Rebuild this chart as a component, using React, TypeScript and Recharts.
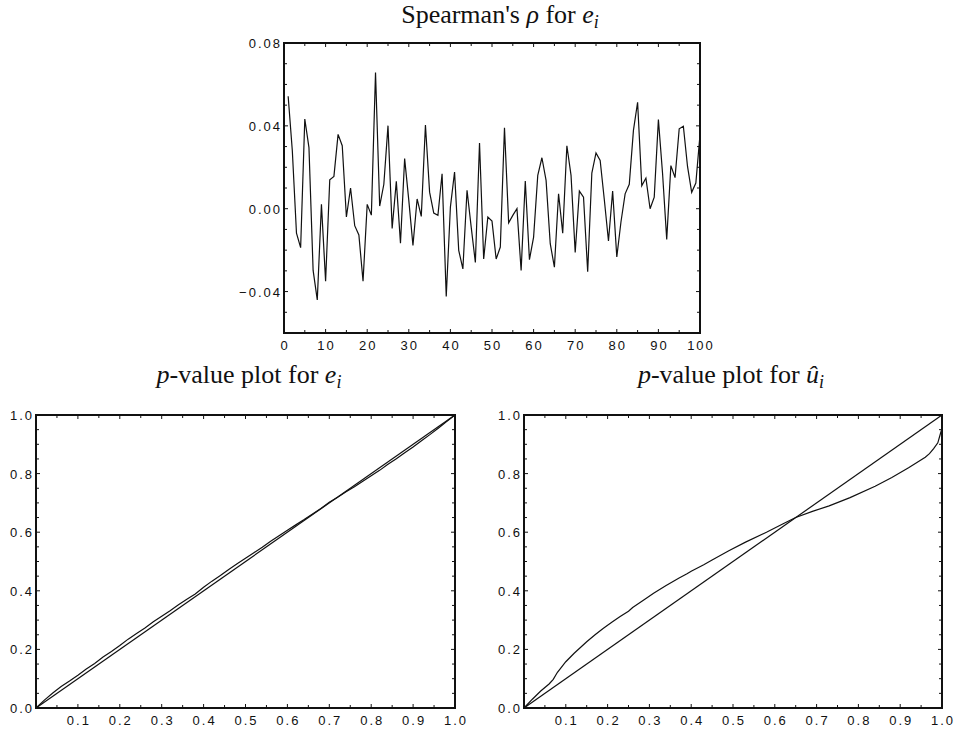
import { LineChart, Line, XAxis, YAxis } from 'recharts';

// Lag index 1..100 for the Spearman plot
const LAGS = Array.from({ length: 100 }, (_, i) => i + 1);

const SPEARMAN_RHO = [
  0.0543, 0.028, -0.0118, -0.0188, 0.0433, 0.0295, -0.0298, -0.044, 0.0021, -0.035,
  0.014, 0.0156, 0.0359, 0.0304, -0.004, 0.01, -0.0082, -0.0127, -0.035, 0.0021,
  -0.0031, 0.0657, 0.0013, 0.0118, 0.0401, -0.0095, 0.0132, -0.0167, 0.0242, 0.004,
  -0.0177, 0.0047, -0.0037, 0.0404, 0.008, -0.0021, -0.0032, 0.0169, -0.0424, 0.0008,
  0.0177, -0.0201, -0.0291, 0.0089, -0.0089, -0.0259, 0.0317, -0.0243, -0.004, -0.006,
  -0.0243, -0.0185, 0.0391, -0.0068, -0.0032, 0.0, -0.0298, 0.0134, -0.0246, -0.0137,
  0.0161, 0.0246, 0.0137, -0.0169, -0.0282, 0.0072, -0.0118, 0.0304, 0.0161, -0.0211,
  0.0085, 0.0056, -0.0304, 0.0172, 0.0269, 0.0233, 0.0043, -0.0156, 0.0085, -0.0233,
  -0.0064, 0.0072, 0.0118, 0.0378, 0.0514, 0.0111, 0.0148, 0.0, 0.0056, 0.043,
  0.017, -0.0148, 0.0208, 0.015, 0.0386, 0.0398, 0.0204, 0.0079, 0.0124, 0.0357,
];

const RHO_X_TICKS = [0, 5, 10, 15, 20, 25, 30, 35, 40, 45, 50, 55, 60, 65, 70, 75, 80, 85, 90, 95, 100];
const RHO_X_LABELS = [0, 10, 20, 30, 40, 50, 60, 70, 80, 90, 100];
const RHO_Y_TICKS = [-0.06, -0.05, -0.04, -0.03, -0.02, -0.01, 0, 0.01, 0.02, 0.03, 0.04, 0.05, 0.06, 0.07, 0.08];
const RHO_Y_LABELS = [-0.04, 0, 0.04, 0.08];

const P_TICKS = [0, 0.05, 0.1, 0.15, 0.2, 0.25, 0.3, 0.35, 0.4, 0.45, 0.5, 0.55, 0.6, 0.65, 0.7, 0.75, 0.8, 0.85, 0.9, 0.95, 1];
const P_X_LABELS = [0.1, 0.2, 0.3, 0.4, 0.5, 0.6, 0.7, 0.8, 0.9, 1.0];
const P_Y_LABELS = [0, 0.2, 0.4, 0.6, 0.8, 1.0];

// p-value plot for e_i
const E_NOMINAL = [
  0, 0.02, 0.04, 0.06, 0.08, 0.1, 0.12, 0.14, 0.16, 0.18, 0.2, 0.22, 0.24, 0.26, 0.28, 0.3, 0.32,
  0.34, 0.36, 0.38, 0.4, 0.42, 0.44, 0.46, 0.48, 0.5, 0.52, 0.54, 0.56, 0.58, 0.6, 0.62, 0.64,
  0.66, 0.68, 0.7, 0.72, 0.74, 0.76, 0.78, 0.8, 0.82, 0.84, 0.86, 0.88, 0.9, 0.92, 0.94, 0.96, 0.98, 1,
];
const E_EMPIRICAL = [
  0, 0.027, 0.051, 0.073, 0.092, 0.112, 0.133, 0.152, 0.174, 0.193, 0.213, 0.235, 0.254, 0.273,
  0.294, 0.313, 0.332, 0.352, 0.371, 0.389, 0.412, 0.433, 0.452, 0.473, 0.492, 0.511, 0.53, 0.549,
  0.569, 0.588, 0.607, 0.625, 0.643, 0.662, 0.681, 0.702, 0.719, 0.738, 0.755, 0.774, 0.793, 0.811,
  0.832, 0.851, 0.871, 0.891, 0.912, 0.933, 0.955, 0.978, 1,
];

// p-value plot for u-hat_i
const U_NOMINAL = [
  0, 0.02, 0.04, 0.06, 0.07, 0.08, 0.1, 0.12, 0.15, 0.17, 0.19, 0.21, 0.23, 0.25, 0.26, 0.29, 0.31,
  0.34, 0.37, 0.39, 0.4, 0.43, 0.45, 0.49, 0.53, 0.58, 0.62, 0.65, 0.69, 0.73, 0.78, 0.84, 0.88,
  0.92, 0.94, 0.96, 0.97, 0.98, 0.99, 0.995, 1,
];
const U_EMPIRICAL = [
  0, 0.03, 0.058, 0.082, 0.098, 0.122, 0.158, 0.187, 0.226, 0.25, 0.272, 0.293, 0.312, 0.33, 0.343,
  0.372, 0.392, 0.418, 0.443, 0.458, 0.467, 0.489, 0.505, 0.537, 0.566, 0.6, 0.629, 0.65, 0.671, 0.69,
  0.718, 0.757, 0.787, 0.82, 0.838, 0.856, 0.868, 0.885, 0.905, 0.93, 0.955,
];

const DIAGONAL = [0, 1];

const INK = '#111';
const LABEL_FONT = '"Liberation Sans", Arial, Helvetica, sans-serif';
const TITLE_FONT = '"Liberation Serif", "Times New Roman", serif';
const FRAME = { stroke: INK, strokeWidth: 2, strokeLinecap: 'square' as const };

type Side = 'bottom' | 'left' | 'top' | 'right';

function fmt(v: number, digits: number) {
  return v.toFixed(digits).replace('-', '\u2212');
}

// ticks point into the plot, labels sit outside (IDL style)
function InwardTick(props: any) {
  const { x, y, payload, side, labels, digits } = props;
  const v = payload.value as number;
  const major = labels.some((l: number) => Math.abs(l - v) < 1e-9);
  const len = major ? 4 : 3;
  let x2 = x;
  let y2 = y;
  if (side === 'bottom') y2 = y - len;
  if (side === 'top') y2 = y + len;
  if (side === 'left') x2 = x + len;
  if (side === 'right') x2 = x - len;
  const showLabel = major && (side === 'bottom' || side === 'left');
  return (
    <g>
      <line x1={x} y1={y} x2={x2} y2={y2} stroke={INK} strokeWidth={1} />
      {showLabel && (
        <text
          x={side === 'left' ? x - 2 : x + 1}
          y={side === 'left' ? y + 5 : y + 16.5}
          textAnchor={side === 'left' ? 'end' : 'middle'}
          fontFamily={LABEL_FONT}
          fontSize={13}
          letterSpacing={2}
          fill={INK}
        >
          {fmt(v, digits)}
        </text>
      )}
    </g>
  );
}

function tickFor(side: Side, labels: number[], digits: number) {
  return (p: any) => <InwardTick {...p} side={side} labels={labels} digits={digits} />;
}

function SpearmanChart() {
  const data = LAGS.map((lag, i) => ({ lag, rho: SPEARMAN_RHO[i] }));
  return (
    <LineChart width={540} height={360} data={data} margin={{ top: 38, right: 35, bottom: 0, left: 0 }}>
      <XAxis
        dataKey="lag"
        type="number"
        domain={[0, 100]}
        ticks={RHO_X_TICKS}
        interval={0}
        height={27}
        tickSize={0}
        tickMargin={0}
        axisLine={FRAME}
        tick={tickFor('bottom', RHO_X_LABELS, 0)}
      />
      <XAxis
        xAxisId="top"
        orientation="top"
        dataKey="lag"
        type="number"
        domain={[0, 100]}
        ticks={RHO_X_TICKS}
        interval={0}
        height={5}
        tickSize={0}
        tickMargin={0}
        axisLine={FRAME}
        tick={tickFor('top', RHO_X_LABELS, 0)}
      />
      <YAxis
        type="number"
        domain={[-0.06, 0.08]}
        ticks={RHO_Y_TICKS}
        interval={0}
        width={84}
        tickSize={0}
        tickMargin={0}
        axisLine={FRAME}
        tick={tickFor('left', RHO_Y_LABELS, 2)}
      />
      <YAxis
        yAxisId="right"
        orientation="right"
        type="number"
        domain={[-0.06, 0.08]}
        ticks={RHO_Y_TICKS}
        interval={0}
        width={5}
        tickSize={0}
        tickMargin={0}
        axisLine={FRAME}
        tick={tickFor('right', RHO_Y_LABELS, 2)}
      />
      <Line dataKey="rho" type="linear" stroke={INK} strokeWidth={1.2} dot={false} isAnimationActive={false} />
      <Line
        xAxisId="top"
        yAxisId="right"
        dataKey="rho"
        type="linear"
        stroke="none"
        dot={false}
        isAnimationActive={false}
      />
    </LineChart>
  );
}

function PValueChart({
  nominal,
  empirical,
  width,
  leftWidth,
  rightMargin,
}: {
  nominal: number[];
  empirical: number[];
  width: number;
  leftWidth: number;
  rightMargin: number;
}) {
  const curve = nominal.map((u, i) => ({ u, v: empirical[i] }));
  const diag = DIAGONAL.map((d) => ({ u: d, v: d }));
  return (
    <LineChart width={width} height={340} margin={{ top: 20, right: rightMargin, bottom: 0, left: 0 }}>
      <XAxis
        dataKey="u"
        type="number"
        domain={[0, 1]}
        ticks={P_TICKS}
        interval={0}
        height={22}
        tickSize={0}
        tickMargin={0}
        axisLine={FRAME}
        tick={tickFor('bottom', P_X_LABELS, 1)}
      />
      <XAxis
        xAxisId="top"
        orientation="top"
        dataKey="u"
        type="number"
        domain={[0, 1]}
        ticks={P_TICKS}
        interval={0}
        height={5}
        tickSize={0}
        tickMargin={0}
        axisLine={FRAME}
        tick={tickFor('top', P_X_LABELS, 1)}
      />
      <YAxis
        dataKey="v"
        type="number"
        domain={[0, 1]}
        ticks={P_TICKS}
        interval={0}
        width={leftWidth}
        tickSize={0}
        tickMargin={0}
        axisLine={FRAME}
        tick={tickFor('left', P_Y_LABELS, 1)}
      />
      <YAxis
        yAxisId="right"
        orientation="right"
        dataKey="v"
        type="number"
        domain={[0, 1]}
        ticks={P_TICKS}
        interval={0}
        width={5}
        tickSize={0}
        tickMargin={0}
        axisLine={FRAME}
        tick={tickFor('right', P_Y_LABELS, 1)}
      />
      <Line data={curve} dataKey="v" type="linear" stroke={INK} strokeWidth={1.2} dot={false} isAnimationActive={false} />
      <Line
        data={diag}
        xAxisId="top"
        yAxisId="right"
        dataKey="v"
        type="linear"
        stroke={INK}
        strokeWidth={1.2}
        dot={false}
        isAnimationActive={false}
      />
    </LineChart>
  );
}

export default function App() {
  return (
    <div style={{ position: 'absolute', left: 0, top: 0, width: 962, height: 731, background: '#fff' }}>
      <div style={{ position: 'absolute', left: 200, top: 0 }}>
        <SpearmanChart />
      </div>
      <div style={{ position: 'absolute', left: 0, top: 390 }}>
        <PValueChart nominal={E_NOMINAL} empirical={E_EMPIRICAL} width={480} leftWidth={36} rightMargin={20} />
      </div>
      <div style={{ position: 'absolute', left: 490, top: 390 }}>
        <PValueChart nominal={U_NOMINAL} empirical={U_EMPIRICAL} width={472} leftWidth={34} rightMargin={15} />
      </div>
      <svg
        width={962}
        height={731}
        style={{ position: 'absolute', left: 0, top: 0, pointerEvents: 'none' }}
        fontFamily={TITLE_FONT}
        fontSize={26}
        fill={INK}
      >
        <text x={500} y={23} textAnchor="middle">
          Spearman's <tspan fontStyle="italic">ρ</tspan> for <tspan fontStyle="italic">e</tspan>
          <tspan fontStyle="italic" fontSize={18} dy={5}>i</tspan>
        </text>
        <text x={249} y={383} textAnchor="middle">
          <tspan fontStyle="italic">p</tspan>-value plot for <tspan fontStyle="italic">e</tspan>
          <tspan fontStyle="italic" fontSize={18} dy={5}>i</tspan>
        </text>
        <text x={731} y={383} textAnchor="middle">
          <tspan fontStyle="italic">p</tspan>-value plot for <tspan fontStyle="italic">û</tspan>
          <tspan fontStyle="italic" fontSize={18} dy={5}>i</tspan>
        </text>
      </svg>
    </div>
  );
}
